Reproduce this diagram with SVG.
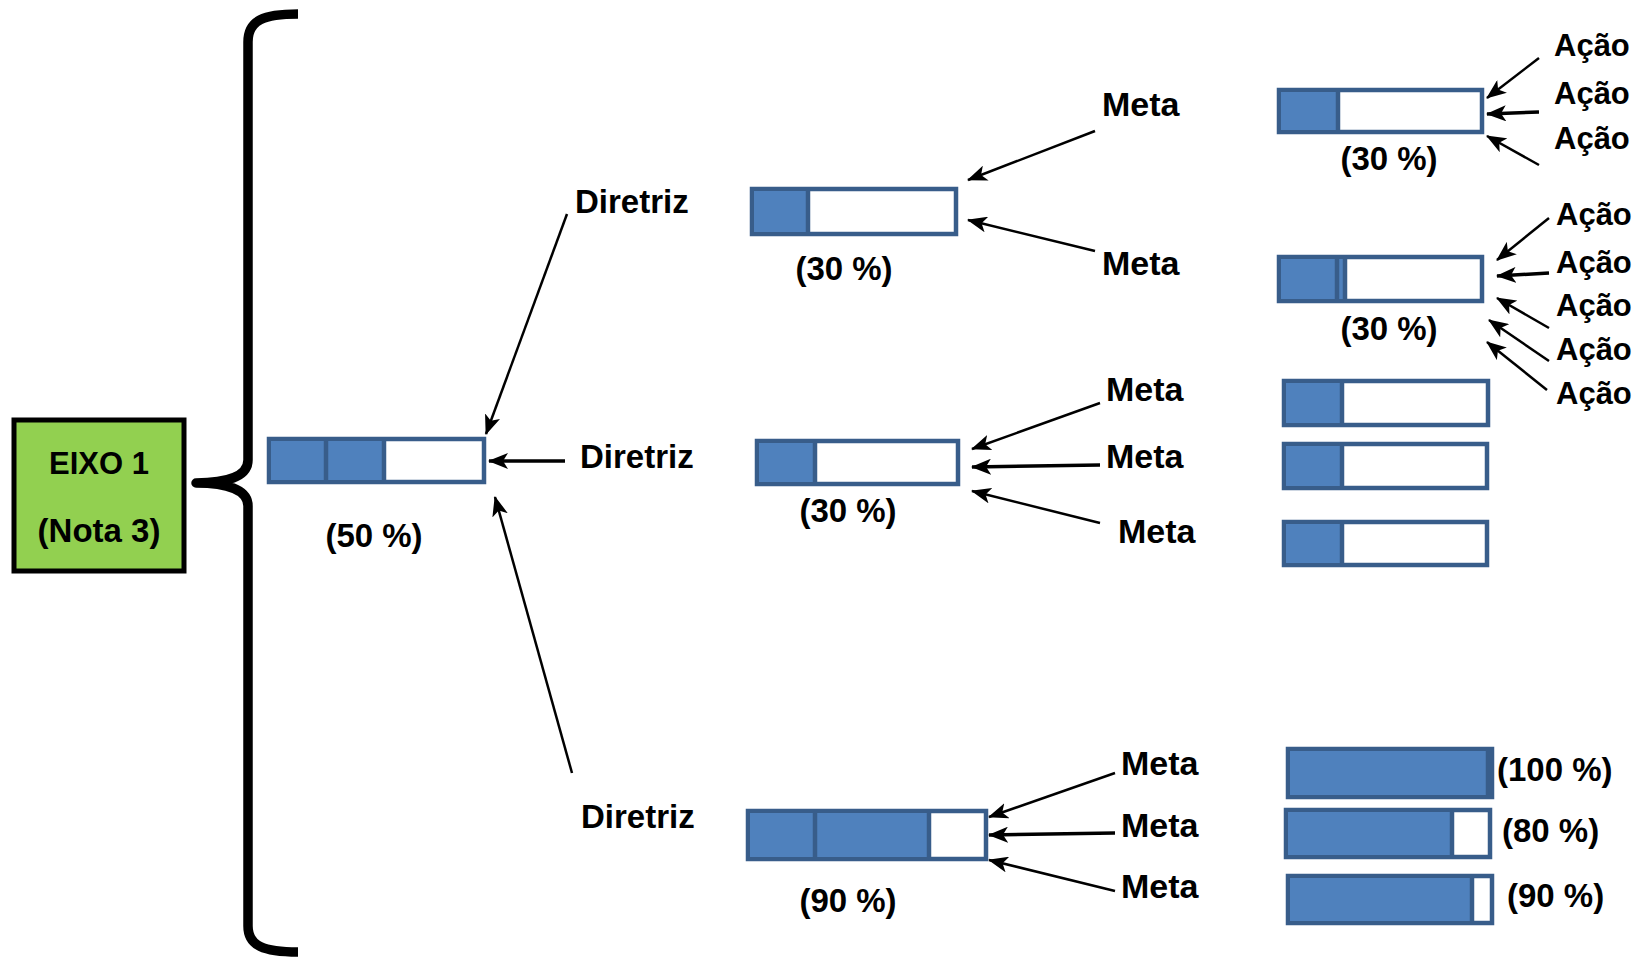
<svg xmlns="http://www.w3.org/2000/svg" width="1638" height="958" viewBox="0 0 1638 958">
<defs>
<style>
text{font-family:"Liberation Sans",Arial,sans-serif;font-weight:bold;fill:#000}
.t{font-size:33px}
.a{font-size:31px}
.m{font-size:34px}
.c{text-anchor:middle}
.box{fill:#fff;stroke:#385D8A;stroke-width:4.5}
.fill{fill:#4F81BD}
.div{stroke:#385D8A;stroke-width:4.5}
.con{stroke:#000;stroke-width:2.5;fill:none;marker-end:url(#ah)}
.thick{stroke-width:3.5}
</style>
<marker id="ah" markerUnits="userSpaceOnUse" markerWidth="20" markerHeight="16" viewBox="0 0 20 16" refX="19" refY="8" orient="auto">
<path d="M0,0 L20,8 L0,16 L5,8 Z" fill="#000"/>
</marker>
</defs>
<rect width="1638" height="958" fill="#fff"/>

<g id="brace">
<path d="M298 14 C264 14 248 20 248 42 L248 460 C248 476 228 483 196 483 C228 483 248 490 248 506 L248 926 C248 946 264 952 298 952" fill="none" stroke="#000" stroke-width="9.5" stroke-linejoin="round"/>
</g>

<g id="eixo">
<rect x="14" y="420" width="170" height="151" fill="#92D050" stroke="#000" stroke-width="5"/>
<text class="t c" x="99" y="474" style="font-size:31px">EIXO 1</text>
<text class="t c" x="99" y="542">(Nota 3)</text>
</g>

<g id="bar50">
<rect class="box" x="269" y="439" width="215" height="43"/>
<rect class="fill" x="271" y="441" width="113" height="39"/>
<line class="div" x1="326" y1="441" x2="326" y2="480"/>
<line class="div" x1="384" y1="441" x2="384" y2="480"/>
<text class="t c" x="374" y="547">(50 %)</text>
</g>

<g id="diretriz1"><text class="t" x="575" y="213">Diretriz</text></g>
<g id="diretriz2"><text class="t" x="580" y="468">Diretriz</text></g>
<g id="diretriz3"><text class="t" x="581" y="828">Diretriz</text></g>

<g id="barD1">
<rect class="box" x="752" y="189" width="204" height="45"/>
<rect class="fill" x="754" y="191" width="54" height="41"/>
<line class="div" x1="808" y1="191" x2="808" y2="232"/>
<text class="t c" x="844" y="280">(30 %)</text>
</g>

<g id="barD2">
<rect class="box" x="757" y="441" width="201" height="43"/>
<rect class="fill" x="759" y="443" width="56" height="39"/>
<line class="div" x1="815" y1="443" x2="815" y2="482"/>
<text class="t c" x="848" y="522">(30 %)</text>
</g>

<g id="barD3">
<rect class="box" x="748" y="811" width="238" height="48"/>
<rect class="fill" x="750" y="813" width="179" height="44"/>
<line class="div" x1="815" y1="813" x2="815" y2="857"/>
<line class="div" x1="929" y1="813" x2="929" y2="857"/>
<text class="t c" x="848" y="912">(90 %)</text>
</g>

<g id="meta1"><text class="m" x="1102" y="116">Meta</text></g>
<g id="meta2"><text class="m" x="1102" y="275">Meta</text></g>
<g id="meta3"><text class="m" x="1106" y="401">Meta</text></g>
<g id="meta4"><text class="m" x="1106" y="468">Meta</text></g>
<g id="meta5"><text class="m" x="1118" y="543">Meta</text></g>
<g id="meta6"><text class="m" x="1121" y="775">Meta</text></g>
<g id="meta7"><text class="m" x="1121" y="837">Meta</text></g>
<g id="meta8"><text class="m" x="1121" y="898">Meta</text></g>

<g id="barR1">
<rect class="box" x="1279" y="90" width="203" height="42"/>
<rect class="fill" x="1281" y="92" width="57" height="38"/>
<line class="div" x1="1338" y1="92" x2="1338" y2="130"/>
<text class="t c" x="1389" y="170">(30 %)</text>
</g>

<g id="barR2">
<rect class="box" x="1279" y="257" width="203" height="44"/>
<rect class="fill" x="1281" y="259" width="62" height="40"/>
<line class="div" x1="1337" y1="259" x2="1337" y2="299"/>
<line class="div" x1="1345" y1="259" x2="1345" y2="299"/>
<text class="t c" x="1389" y="340">(30 %)</text>
</g>

<g id="barR3">
<rect class="box" x="1284" y="381" width="204" height="44"/>
<rect class="fill" x="1286" y="383" width="56" height="40"/>
<line class="div" x1="1342" y1="383" x2="1342" y2="423"/>
</g>

<g id="barR4">
<rect class="box" x="1284" y="444" width="203" height="44"/>
<rect class="fill" x="1286" y="446" width="56" height="40"/>
<line class="div" x1="1342" y1="446" x2="1342" y2="486"/>
</g>

<g id="barR5">
<rect class="box" x="1284" y="522" width="203" height="43"/>
<rect class="fill" x="1286" y="524" width="56" height="39"/>
<line class="div" x1="1342" y1="524" x2="1342" y2="563"/>
</g>

<g id="barR6">
<rect class="box" x="1288" y="749" width="204" height="48"/>
<rect class="fill" x="1290" y="751" width="200" height="44"/>
<line class="div" x1="1488" y1="751" x2="1488" y2="795"/>
<text class="t" x="1497" y="781">(100 %)</text>
</g>

<g id="barR7">
<rect class="box" x="1286" y="810" width="204" height="47"/>
<rect class="fill" x="1288" y="812" width="164" height="43"/>
<line class="div" x1="1452" y1="812" x2="1452" y2="855"/>
<text class="t" x="1502" y="842">(80 %)</text>
</g>

<g id="barR8">
<rect class="box" x="1288" y="876" width="204" height="47"/>
<rect class="fill" x="1290" y="878" width="182" height="43"/>
<line class="div" x1="1472" y1="878" x2="1472" y2="921"/>
<text class="t" x="1507" y="907">(90 %)</text>
</g>

<g id="acao1"><text class="a" x="1554" y="56">Ação</text></g>
<g id="acao2"><text class="a" x="1554" y="104">Ação</text></g>
<g id="acao3"><text class="a" x="1554" y="149">Ação</text></g>
<g id="acao4"><text class="a" x="1556" y="225">Ação</text></g>
<g id="acao5"><text class="a" x="1556" y="273">Ação</text></g>
<g id="acao6"><text class="a" x="1556" y="316">Ação</text></g>
<g id="acao7"><text class="a" x="1556" y="360">Ação</text></g>
<g id="acao8"><text class="a" x="1556" y="404">Ação</text></g>

<g id="connectors">
<line class="con" x1="567" y1="214" x2="486" y2="434"/>
<line class="con thick" x1="565" y1="461" x2="489" y2="461"/>
<line class="con" x1="572" y1="773" x2="495" y2="497"/>

<line class="con" x1="1095" y1="131" x2="968" y2="180"/>
<line class="con" x1="1095" y1="251" x2="968" y2="220"/>

<line class="con" x1="1100" y1="403" x2="972" y2="449"/>
<line class="con thick" x1="1100" y1="465" x2="972" y2="467"/>
<line class="con" x1="1100" y1="523" x2="972" y2="491"/>

<line class="con" x1="1115" y1="773" x2="989" y2="817"/>
<line class="con thick" x1="1115" y1="833" x2="989" y2="835"/>
<line class="con" x1="1115" y1="891" x2="989" y2="860"/>

<line class="con" x1="1539" y1="58" x2="1487" y2="98"/>
<line class="con thick" x1="1539" y1="112" x2="1487" y2="114"/>
<line class="con" x1="1539" y1="165" x2="1487" y2="136"/>

<line class="con" x1="1549" y1="218" x2="1497" y2="260"/>
<line class="con thick" x1="1549" y1="273" x2="1497" y2="276"/>
<line class="con" x1="1549" y1="328" x2="1497" y2="298"/>
<line class="con" x1="1549" y1="361" x2="1489" y2="320"/>
<line class="con" x1="1547" y1="390" x2="1487" y2="342"/>
</g>
</svg>
